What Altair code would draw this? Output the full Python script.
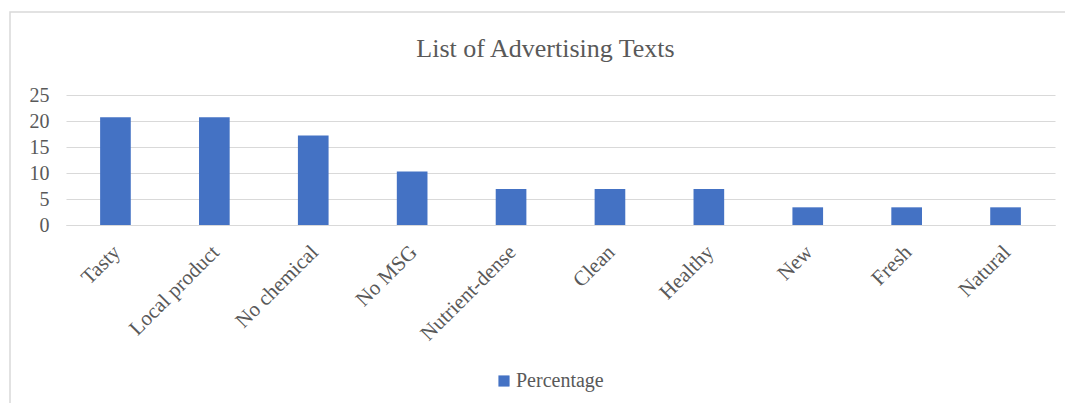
import altair as alt
import pandas as pd

categories = ["Tasty", "Local product", "No chemical", "No MSG", "Nutrient-dense",
              "Clean", "Healthy", "New", "Fresh", "Natural"]
percentages = [20.7, 20.7, 17.2, 10.3, 6.9, 6.9, 6.9, 3.4, 3.4, 3.4]
series_name = "Percentage"

df = pd.DataFrame({"Category": categories, "Value": percentages,
                   "Series": [series_name] * len(categories)})

FONT = "Liberation Serif"
GRAY = "#595959"

frame = alt.Chart(pd.DataFrame({"a": [0]})).mark_rect(
    fillOpacity=0, stroke="#d9d9d9", strokeWidth=1.5
).encode(
    x=alt.value(-56), x2=alt.value(1020),
    y=alt.value(-83), y2=alt.value(330)
)

bars = alt.Chart(df).mark_bar(color="#4472C4").encode(
    x=alt.X("Category:N", sort=categories,
            scale=alt.Scale(paddingInner=0.69, paddingOuter=0.345),
            axis=alt.Axis(title=None, labelAngle=-45, labelFont=FONT, labelFontSize=21,
                          labelColor=GRAY, ticks=False, domain=True, domainColor="#d9d9d9",
                          labelPadding=16, labelOffset=-6,
                          labelAlign="right", labelBaseline="top")),
    y=alt.Y("Value:Q", scale=alt.Scale(domain=[0, 25]),
            axis=alt.Axis(title=None, values=[0, 5, 10, 15, 20, 25], labelFont=FONT,
                          labelFontSize=20, labelColor=GRAY, ticks=False, domain=False,
                          gridColor="#d9d9d9", labelPadding=17)),
    color=alt.Color("Series:N", scale=alt.Scale(range=["#4472C4"]),
                    legend=alt.Legend(title=None, orient="none", legendX=428, legendY=276,
                                      symbolType="square", symbolSize=125,
                                      symbolStrokeWidth=0, labelFont=FONT,
                                      labelFontSize=20, labelColor=GRAY, labelOffset=2))
)

chart = alt.layer(frame, bars).properties(
    width=989, height=130,
    padding={"left": 58, "top": 87, "right": 10, "bottom": 178},
    autosize=alt.AutoSizeParams(type="none"),
    title=alt.TitleParams("List of Advertising Texts", font=FONT, fontSize=26,
                          fontWeight="normal", color=GRAY, anchor="middle",
                          dx=-15, dy=51, offset=0)
).configure_view(stroke=None)

chart.save("out.html", embed_options={"renderer": "svg", "actions": False})
